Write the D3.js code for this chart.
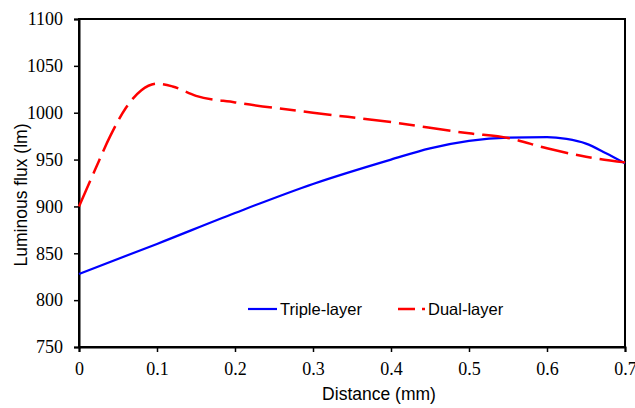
<!DOCTYPE html>
<html>
<head>
<meta charset="utf-8">
<script src="https://cdn.jsdelivr.net/npm/d3@7"></script>
<style>
  body { margin: 0; background: #fff; }
  svg { display: block; }
  .ttl { font-family: "Liberation Sans", Arial, sans-serif; font-size: 17.5px; fill: #000; }
  .leg { font-family: "Liberation Sans", Arial, sans-serif; font-size: 16.5px; fill: #000; }
  .axis text { font-family: "Liberation Serif", "Times New Roman", serif; font-size: 18px; fill: #000; }
</style>
</head>
<body>
<svg width="635" height="408"></svg>
<script>
// values
const tripleX = [0, 0.1, 0.2, 0.3, 0.4, 0.45, 0.5, 0.55, 0.6, 0.625, 0.65, 0.675, 0.7]
const tripleY = [828, 860, 893, 924, 950, 962, 970, 973.5, 974, 972, 967, 957, 946]
const dualX = [0, 0.02, 0.04, 0.06, 0.08, 0.1, 0.12, 0.15, 0.2, 0.3, 0.4, 0.5, 0.55, 0.6, 0.65, 0.7]
const dualY = [900, 938, 975, 1005, 1024, 1031, 1028, 1018, 1011, 1000, 990, 978, 973, 962, 953, 947]
const xTicks = [0, 0.1, 0.2, 0.3, 0.4, 0.5, 0.6, 0.7]
const yTicks = [750, 800, 850, 900, 950, 1000, 1050, 1100]

let svg = d3.select('svg')
let margin = {top: 19, right: 10, bottom: 61, left: 79}
let height = 408 - margin.top - margin.bottom

let x = d3.scaleLinear().domain([0, 0.7]).range([0, 546])
let y = d3.scaleLinear().domain([750, 1100]).range([height, 0])

let g = svg.append('g')
  .attr('transform', 'translate(' + margin.left + ',' + margin.top + ')')

// frame
g.append('rect')
  .attr('width', x(0.7))
  .attr('height', height)
  .attr('fill', 'none')
  .attr('stroke', '#000')
  .attr('stroke-width', 2)

let xAxis = d3.axisBottom(x).tickValues(xTicks).tickSize(5).tickPadding(10)
  .tickFormat((d) => d === 0 ? '0' : d3.format('.1f')(d))
let yAxis = d3.axisLeft(y).tickValues(yTicks).tickSize(5).tickPadding(11)
  .tickFormat(d3.format('d'))

function styleAxis (s) {
  s.attr('font-family', null).attr('font-size', null)
  s.select('.domain').attr('stroke-width', 2)
  s.selectAll('.tick line').attr('stroke-width', 1.5)
}

g.append('g')
  .attr('class', 'axis')
  .attr('transform', 'translate(0,' + height + ')')
  .call(xAxis)
  .call(styleAxis)

g.append('g')
  .attr('class', 'axis')
  .call(yAxis)
  .call(styleAxis)

let line = d3.line()
  .curve(d3.curveMonotoneX)
  .x((d) => x(d[0]))
  .y((d) => y(d[1]))

g.append('path')
  .datum(d3.zip(tripleX, tripleY))
  .attr('fill', 'none')
  .attr('stroke', '#0000ff')
  .attr('stroke-width', 2.2)
  .attr('d', line)

g.append('path')
  .datum(d3.zip(dualX, dualY))
  .attr('fill', 'none')
  .attr('stroke', '#ff0000')
  .attr('stroke-width', 2.5)
  .attr('stroke-dasharray', '28,8,16,8')
  .attr('d', line)

// axis titles
svg.append('text')
  .attr('class', 'ttl')
  .attr('x', 379)
  .attr('y', 400)
  .attr('text-anchor', 'middle')
  .text('Distance (mm)')

svg.append('text')
  .attr('class', 'ttl')
  .attr('transform', 'translate(27,195) rotate(-90)')
  .attr('text-anchor', 'middle')
  .text('Luminous flux (lm)')

// legend
let leg = svg.append('g')
leg.append('line')
  .attr('x1', 248).attr('x2', 277).attr('y1', 309).attr('y2', 309)
  .attr('stroke', '#0000ff').attr('stroke-width', 2.2)
leg.append('text').attr('class', 'leg')
  .attr('x', 280).attr('y', 315).text('Triple-layer')
leg.append('line')
  .attr('x1', 398).attr('x2', 425).attr('y1', 309).attr('y2', 309)
  .attr('stroke', '#ff0000').attr('stroke-width', 2.5)
  .attr('stroke-dasharray', '17,7')
leg.append('text').attr('class', 'leg')
  .attr('x', 428).attr('y', 315).text('Dual-layer')
</script>
</body>
</html>
